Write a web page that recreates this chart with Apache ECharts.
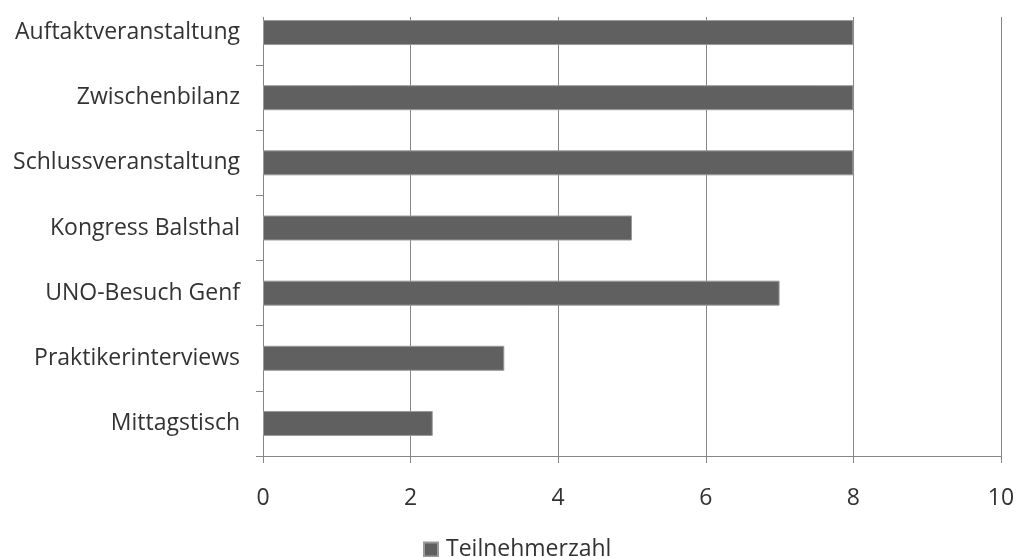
<!DOCTYPE html>
<html>
<head>
<meta charset="utf-8">
<style>
  html, body { margin: 0; padding: 0; background: #fff; }
  #chart { width: 1018px; height: 557px; }
</style>
<script src="https://cdn.jsdelivr.net/npm/echarts@6/dist/echarts.min.js"></script>
</head>
<body>
<div id="chart"></div>
<script>
// Event names, listed bottom to top as they appear on the category axis
const categories = [
  'Mittagstisch',
  'Praktikerinterviews',
  'UNO-Besuch Genf',
  'Kongress Balsthal',
  'Schlussveranstaltung',
  'Zwischenbilanz',
  'Auftaktveranstaltung'
];
// Participant counts per event
const teilnehmer = [2.3, 3.27, 7, 5, 8, 8, 8];
const seriesName = 'Teilnehmerzahl';
const xTicks = [0, 2, 4, 6, 8, 10];

const FONT = '"Open Sans", "Noto Sans", sans-serif';
const FONT_SIZE = 23;
const TEXT_COLOR = '#333';
const AXIS_GREY = '#868686';

const chart = echarts.init(document.getElementById('chart'), null, { renderer: 'canvas' });

chart.setOption({
  animation: false,
  backgroundColor: '#fff',
  grid: { left: 263, right: 17, top: -6, bottom: 101, containLabel: false },
  legend: {
    data: [seriesName],
    top: 538,
    left: 423,
    padding: 0,
    itemWidth: 14,
    itemHeight: 14,
    itemGap: 8,
    icon: 'rect',
    textStyle: { fontFamily: FONT, fontSize: FONT_SIZE, color: TEXT_COLOR, padding: [0, 0, 0, 3] }
  },
  xAxis: {
    type: 'value',
    min: xTicks[0],
    max: xTicks[xTicks.length - 1],
    interval: 2,
    axisLine: { show: true, lineStyle: { color: AXIS_GREY, width: 1 } },
    axisTick: { show: true, length: 7, lineStyle: { color: AXIS_GREY } },
    axisLabel: { fontFamily: FONT, fontSize: FONT_SIZE, color: TEXT_COLOR, margin: 31 },
    splitLine: { show: true, lineStyle: { color: AXIS_GREY, width: 1 } }
  },
  yAxis: {
    type: 'category',
    data: categories,
    axisLine: { show: true, lineStyle: { color: AXIS_GREY, width: 1 } },
    axisTick: { show: true, length: 7, lineStyle: { color: AXIS_GREY } },
    axisLabel: { fontFamily: FONT, fontSize: FONT_SIZE, color: TEXT_COLOR, margin: 23 },
    splitLine: { show: false }
  },
  series: [{
    name: seriesName,
    type: 'bar',
    data: teilnehmer,
    barWidth: 25,
    z: 3,
    itemStyle: { color: '#606060', borderColor: '#9a9a9a', borderWidth: 1 }
  }],
  graphic: [{
    // plot frame starts below the top edge; clear the grid lines above it
    type: 'rect',
    left: 250,
    top: 0,
    shape: { width: 768, height: 17 },
    style: { fill: '#fff' },
    z: 1
  }]
});
</script>
</body>
</html>
